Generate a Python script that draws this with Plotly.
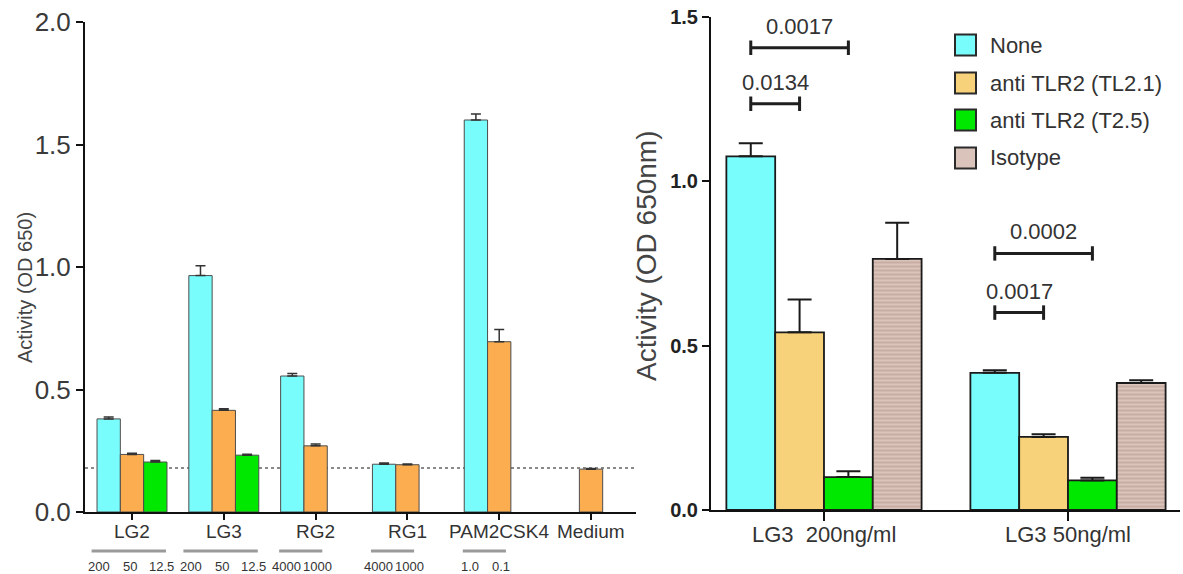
import plotly.graph_objects as go

# ---------------- data ----------------
left_groups = ["LG2", "LG3", "RG2", "RG1", "PAM2CSK4", "Medium"]
left_none = [0.38, 0.965, 0.555, 0.195, 1.60, None]
left_none_err = [0.008, 0.04, 0.01, 0.005, 0.025, 0]
left_tl21 = [0.235, 0.415, 0.27, 0.193, 0.695, 0.175]
left_tl21_err = [0.005, 0.006, 0.008, 0.003, 0.05, 0.003]
left_t25 = [0.204, 0.232, None, None, None, None]
left_t25_err = [0.006, 0.004, 0, 0, 0, 0]
left_doses = [["200", "50", "12.5"], ["200", "50", "12.5"], ["4000", "1000"],
              ["4000", "1000"], ["1.0", "0.1"], []]
left_baseline = 0.18

right_groups = ["LG3\u00a0 200ng/ml", "LG3 50ng/ml"]
right_none = [1.075, 0.417]
right_none_err = [0.04, 0.008]
right_tl21 = [0.54, 0.222]
right_tl21_err = [0.10, 0.008]
right_t25 = [0.10, 0.09]
right_t25_err = [0.018, 0.008]
right_iso = [0.763, 0.386]
right_iso_err = [0.11, 0.008]

series_names = ["None", "anti TLR2 (TL2.1)", "anti TLR2 (T2.5)", "Isotype"]

# comparisons: (group, bar a, bar b, bracket height, p-value)
comparisons = [
    (0, 0, 2, 1.405, "0.0017"),
    (0, 0, 1, 1.235, "0.0134"),
    (1, 0, 2, 0.78, "0.0002"),
    (1, 0, 1, 0.60, "0.0017"),
]

# ---------------- style ----------------
W, H = 1183, 574
FONT = "Liberation Sans, Arial, sans-serif"
CYAN = "#78FCFC"
ORANGE_L = "#FBAD50"
GREEN = "#00E800"
SAND = "#F7D27A"
ISO_BG = "#DAC3BA"
ISO_FG = "#9A7C72"

def px_x(p):
    return p / W

def px_y(p):
    return 1 - p / H

wl = 0.254  # left bar width (category units)
wr = 0.2    # right bar width
dose_step = 0.34

fig = go.Figure()

left_series = [
    (left_none, left_none_err, CYAN),
    (left_tl21, left_tl21_err, ORANGE_L),
    (left_t25, left_t25_err, GREEN),
]
for k, (vals, errs, col) in enumerate(left_series):
    fig.add_trace(go.Bar(
        x=left_groups, y=vals, name=series_names[k], xaxis="x", yaxis="y",
        width=wl, offset=(k - 1.5) * wl,
        marker=dict(color=col, line=dict(color="#4d4d4d", width=1)),
        error_y=dict(type="data", array=errs, arrayminus=[0] * len(errs),
                     symmetric=False, color="#333333", thickness=1.5, width=5),
        showlegend=False,
    ))

right_series = [
    (right_none, right_none_err, dict(color=CYAN)),
    (right_tl21, right_tl21_err, dict(color=SAND)),
    (right_t25, right_t25_err, dict(color=GREEN)),
    (right_iso, right_iso_err, dict(color=ISO_BG,
                                    pattern=dict(shape="-", fgcolor=ISO_FG, bgcolor=ISO_BG,
                                                 size=4, solidity=0.3))),
]
for k, (vals, errs, mk) in enumerate(right_series):
    mk = dict(mk)
    mk["line"] = dict(color="#1a1a1a", width=1.8)
    fig.add_trace(go.Bar(
        x=right_groups, y=vals, name=series_names[k], xaxis="x2", yaxis="y2",
        width=wr, offset=(k - 2) * wr,
        marker=mk,
        error_y=dict(type="data", array=errs, arrayminus=[0] * len(errs),
                     symmetric=False, color="#1a1a1a", thickness=2, width=12),
        showlegend=False,
    ))

shapes = []
annotations = []

# dotted baseline on left chart
shapes.append(dict(type="line", xref="x domain", yref="y", x0=0, x1=1,
                   y0=left_baseline, y1=left_baseline, layer="below",
                   line=dict(color="#8a8a8a", width=2, dash="dot")))

# group names, underlines and dose labels under left groups
for g, (grp, doses) in enumerate(zip(left_groups, left_doses)):
    annotations.append(dict(x=g, y=px_y(531), xref="x", yref="paper", text=grp,
                            showarrow=False, xanchor="center", yanchor="middle",
                            font=dict(family=FONT, size=19, color="#333333")))
    if not doses:
        continue
    n = len(doses)
    mid = (n - 1) / 2 * wl - wl - 0.02  # mean of the bar centres used
    pos = [g + mid + (k - (n - 1) / 2) * dose_step for k in range(n)]
    shapes.append(dict(type="line", xref="x", yref="paper", x0=pos[0] - 0.08, x1=pos[-1] + 0.05,
                       y0=px_y(551), y1=px_y(551),
                       line=dict(color="#9a9a9a", width=3)))
    for xx, d in zip(pos, doses):
        annotations.append(dict(x=xx, y=px_y(566), xref="x", yref="paper",
                                text=d, showarrow=False,
                                font=dict(family=FONT, size=13, color="#333333"),
                                xanchor="center", yanchor="middle"))

# category labels under right chart
for g, grp in enumerate(right_groups):
    annotations.append(dict(x=g, y=px_y(534), xref="x2", yref="paper", text=grp,
                            showarrow=False, xanchor="center", yanchor="middle",
                            font=dict(family=FONT, size=22, color="#333333")))

# significance brackets (right chart)
for g, a, b, h, lab in comparisons:
    xa = g + (a - 1.5) * wr
    xb = g + (b - 1.5) * wr
    cap = 0.022
    shapes.append(dict(type="line", xref="x2", yref="y2", x0=xa, x1=xb, y0=h, y1=h,
                       line=dict(color="#1f1f1f", width=3)))
    for xx in (xa, xb):
        shapes.append(dict(type="line", xref="x2", yref="y2", x0=xx, x1=xx,
                           y0=h - cap, y1=h + cap, line=dict(color="#1f1f1f", width=3)))
    annotations.append(dict(x=(xa + xb) / 2, y=h, xref="x2", yref="y2", text=lab,
                            showarrow=False, yanchor="bottom", yshift=7,
                            font=dict(family=FONT, size=22, color="#333333")))

# manual legend (right chart)
legend_rows = [45, 83, 120, 158]
legend_fill = [CYAN, SAND, GREEN, ISO_BG]
for name, cy, col in zip(series_names, legend_rows, legend_fill):
    shapes.append(dict(type="rect", xref="paper", yref="paper",
                       x0=px_x(955), x1=px_x(976), y0=px_y(cy + 10.5), y1=px_y(cy - 10.5),
                       fillcolor=col, line=dict(color="#2a2a2a", width=2)))
    annotations.append(dict(x=px_x(988), y=px_y(cy), xref="paper", yref="paper",
                            text=name, showarrow=False, xanchor="left", yanchor="middle",
                            font=dict(family=FONT, size=22, color="#333333")))

# axis titles as annotations
annotations.append(dict(x=px_x(25), y=px_y(288), xref="paper", yref="paper",
                        xanchor="center", yanchor="middle",
                        text="Activity (OD 650)", textangle=-90, showarrow=False,
                        font=dict(family=FONT, size=20, color="#444444")))
annotations.append(dict(x=px_x(646), y=px_y(256), xref="paper", yref="paper",
                        xanchor="center", yanchor="middle",
                        text="Activity (OD 650nm)", textangle=-90, showarrow=False,
                        font=dict(family=FONT, size=28, color="#444444")))

fig.update_layout(
    width=W, height=H,
    margin=dict(l=0, r=0, t=0, b=0, autoexpand=False),
    paper_bgcolor="white", plot_bgcolor="white",
    barmode="overlay",
    showlegend=False,
    shapes=shapes,
    annotations=annotations,
    xaxis=dict(domain=[px_x(85), px_x(636)], range=[-0.512, 5.49], anchor="y",
               showline=True, linecolor="#111111", linewidth=2,
               ticks="outside", ticklen=6, tickwidth=2, tickcolor="#111111",
               showgrid=False, zeroline=False, automargin=False,
               showticklabels=False),
    yaxis=dict(domain=[px_y(512), px_y(22)], range=[0, 2.0], anchor="x",
               tickvals=[0, 0.5, 1.0, 1.5, 2.0], ticktext=["0.0", "0.5", "1.0", "1.5", "2.0"],
               showline=True, linecolor="#111111", linewidth=2,
               ticks="outside", ticklen=7, tickwidth=2, tickcolor="#111111",
               showgrid=False, zeroline=False, automargin=False,
               tickfont=dict(family=FONT, size=26, color="#3a3a3a")),
    xaxis2=dict(domain=[px_x(711), px_x(1180)], range=[-0.463, 1.459], anchor="y2",
                showline=True, linecolor="#111111", linewidth=2,
                ticks="outside", ticklen=9, tickwidth=2, tickcolor="#111111",
                showgrid=False, zeroline=False, automargin=False,
                showticklabels=False),
    yaxis2=dict(domain=[px_y(510), px_y(16.5)], range=[0, 1.5], anchor="x2",
                tickvals=[0, 0.5, 1.0, 1.5], ticktext=["0.0", "0.5", "1.0", "1.5"],
                showline=True, linecolor="#111111", linewidth=2,
                ticks="outside", ticklen=7, tickwidth=2, tickcolor="#111111",
                showgrid=False, zeroline=False, automargin=False,
                tickfont=dict(family=FONT, size=20, color="#222222", weight="bold")),
)

fig.write_html("out.html")
